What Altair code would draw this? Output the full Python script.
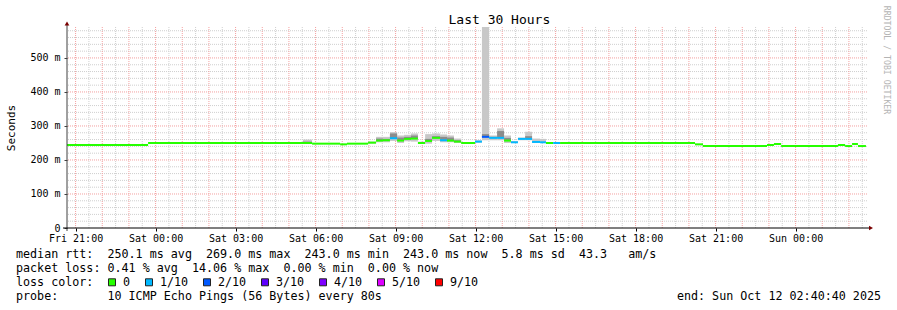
import json
import altair as alt
import pandas as pd

FONT = "DejaVu Sans Mono"
NB = "\u00a0"

# ---------------- text ----------------
TITLE = "Last 30 Hours"
Y_TITLE = "Seconds"
WATERMARK = "RRDTOOL / TOBI OETIKER"
LINE_RTT = "median rtt:  250.1 ms avg  269.0 ms max  243.0 ms min  243.0 ms now  5.8 ms sd  43.3   am/s"
LINE_LOSS = "packet loss: 0.41 % avg  14.06 % max  0.00 % min  0.00 % now"
LINE_COLOR = "loss color:"
LINE_PROBE = "probe:       10 ICMP Echo Pings (56 Bytes) every 80s"
LINE_END = "end: Sun Oct 12 02:40:40 2025"

# ---------------- axes ----------------
x_tick_labels = ["Fri 21:00", "Sat 00:00", "Sat 03:00", "Sat 06:00", "Sat 09:00",
                 "Sat 12:00", "Sat 15:00", "Sat 18:00", "Sat 21:00", "Sun 00:00"]
FIRST_TICK_H = 0.3222          # Fri 21:00 is 19m20s after start (Fri 20:40:40)
X_MAX = 30                      # 30 hours shown
Y_MAX = 591                     # ms at top of plot
x_tick_values = [round(FIRST_TICK_H + 3 * i, 4) for i in range(len(x_tick_labels))]
y_tick_values = [0, 100, 200, 300, 400, 500]
hour_grid = [round(FIRST_TICK_H + i, 4) for i in range(30)]
half_hour_grid = [round(FIRST_TICK_H + 0.5 + i, 4) for i in range(30)]
y_major_grid = [100, 200, 300, 400, 500]
y_minor_grid = [v for v in range(20, 581, 20) if v % 100 != 0]

loss_labels = ["0", "1/10", "2/10", "3/10", "4/10", "5/10", "9/10"]
loss_colors = ["#26ff00", "#00b8ff", "#0059ff", "#5e00ff", "#7e00ff", "#dd00ff", "#ff0000"]

# ---------------- data (hours since start, ms) ----------------
seg_start = [0.00, 3.04, 8.85, 9.19, 10.24, 10.50, 11.29, 11.59, 11.85, 12.11,
             12.38, 12.64, 12.90, 13.16, 13.43, 13.69, 13.99, 14.25, 14.51, 14.78,
             15.30, 15.56, 15.83, 16.13, 16.39, 16.65, 16.91, 17.18, 17.44, 17.74,
             17.96, 18.23, 18.49, 23.55, 23.85, 26.25, 26.51, 26.78, 28.91, 29.18,
             29.44, 29.66]
seg_end = seg_start[1:] + [29.96]
median_ms = [244, 250, 250, 248, 246, 248, 251, 257, 258, 264,
             257, 262, 263, 250, 256, 265, 258, 257, 254, 250,
             254, 268, 265, 265, 257, 252, 262, 262, 253, 252,
             250, 250, 250, 246, 241, 244, 247, 241, 244, 241,
             247, 241]
loss = ["0", "0", "0", "0", "0", "0", "0", "0", "0", "1/10",
        "0", "0", "0", "0", "0", "0", "1/10", "0", "0", "0",
        "1/10", "2/10", "1/10", "1/10", "0", "1/10", "1/10", "1/10", "1/10", "1/10",
        "0", "1/10", "0", "0", "0", "0", "0", "0", "0", "0",
        "0", "0"]
smoke_lo = [None, None, 248, None, None, None, 248, 252, 252, 256,
            250, 255, 254, 247, 248, 256, 252, 252, 250, None,
            251, 258, 258, 258, 250, 250, 258, 258, 250, 250,
            None, None, None, None, None, None, None, None, None, None,
            None, None]
smoke_hi = [None, None, 260, None, None, None, 254, 268, 268, 282,
            272, 274, 278, 254, 276, 278, 275, 272, 263, None,
            258, 591, 272, 293, 272, 256, 266, 283, 263, 262,
            None, None, None, None, None, None, None, None, None, None,
            None, None]
smoke_dark = [None, None, 254, None, None, None, None, 263, 262, 278,
              266, 268, 272, None, 262, 270, 268, 266, 258, None,
              None, 276, 268, 285, 265, None, None, 270, None, None,
              None, None, None, None, None, None, None, None, None, None,
              None, None]

df = pd.DataFrame({"t0": seg_start, "t1": seg_end, "med": median_ms, "loss": loss,
                   "lo": smoke_lo, "hi": smoke_hi, "dark": smoke_dark})
df_smoke = df.dropna(subset=["lo"])
df_dark = df.dropna(subset=["dark"])

W, H = 800, 201
xs = alt.Scale(domain=[0, X_MAX], nice=False, zero=False)
ys = alt.Scale(domain=[0, Y_MAX], nice=False, zero=True)

x_label_expr = json.dumps(x_tick_labels) + f"[round((datum.value - {FIRST_TICK_H}) / 3)]"
y_label_expr = f"datum.value == 0 ? '0{NB}{NB}' : datum.value + ' m'"

X_AXIS = alt.Axis(
    values=x_tick_values, labelExpr=x_label_expr, title=None, grid=False,
    domain=False, tickSize=3, tickColor="#000", labelColor="#000",
    labelFont=FONT, labelFontSize=10, labelPadding=2, labelFlush=False,
    labelOverlap=False)
Y_AXIS = alt.Axis(
    values=y_tick_values, labelExpr=y_label_expr, title=Y_TITLE, grid=False,
    domain=False, tickSize=3, tickColor="#404040", labelColor="#000",
    labelFont=FONT, labelFontSize=10, labelPadding=4, titleFont=FONT,
    titleFontSize=11, titleFontWeight="normal", titleColor="#000",
    titleAngle=270, titleX=-56, titleY=H / 2, titleAlign="center",
    titleBaseline="middle")

GRID_MINOR = "#cfcfcf"
GRID_MAJOR = "#f3a0a0"

v_minor = alt.Chart(pd.DataFrame({"h": half_hour_grid})).mark_rule(
    color=GRID_MINOR, strokeDash=[1, 1], strokeWidth=1).encode(
    x=alt.X("h:Q", scale=xs, axis=X_AXIS))
h_minor = alt.Chart(pd.DataFrame({"v": y_minor_grid})).mark_rule(
    color=GRID_MINOR, strokeDash=[1, 1], strokeWidth=1).encode(
    y=alt.Y("v:Q", scale=ys, axis=Y_AXIS))
v_major = alt.Chart(pd.DataFrame({"h": hour_grid})).mark_rule(
    color=GRID_MAJOR, strokeDash=[1, 1], strokeWidth=1).encode(
    x=alt.X("h:Q", scale=xs, axis=X_AXIS))
h_major = alt.Chart(pd.DataFrame({"v": y_major_grid})).mark_rule(
    color=GRID_MAJOR, strokeDash=[1, 1], strokeWidth=1).encode(
    y=alt.Y("v:Q", scale=ys, axis=Y_AXIS))

smoke = alt.Chart(df_smoke).mark_rect(color="#c8c8c8").encode(
    x=alt.X("t0:Q", scale=xs, axis=X_AXIS), x2="t1:Q",
    y=alt.Y("lo:Q", scale=ys, axis=Y_AXIS), y2="hi:Q")
dark = alt.Chart(df_dark).mark_rect(color="#8c8c8c").encode(
    x=alt.X("t0:Q", scale=xs, axis=X_AXIS), x2="t1:Q",
    y=alt.Y("med:Q", scale=ys, axis=Y_AXIS), y2="dark:Q")

median = alt.Chart(df).mark_rule(strokeWidth=2).encode(
    x=alt.X("t0:Q", scale=xs, axis=X_AXIS),
    x2="t1:Q",
    y=alt.Y("med:Q", scale=ys, axis=Y_AXIS),
    color=alt.Color("loss:N", scale=alt.Scale(domain=loss_labels, range=loss_colors),
                    legend=None))

one = pd.DataFrame({"a": [0]})
y_line = alt.Chart(one).mark_rule(color="#404040", strokeWidth=1).encode(
    x=alt.value(0), y=alt.value(-4), y2=alt.value(H + 3))
x_line = alt.Chart(one).mark_rule(color="#000000", strokeWidth=1).encode(
    x=alt.value(-4), x2=alt.value(W + 3), y=alt.value(H))
arrow_up = alt.Chart(one).mark_point(shape="triangle-up", filled=True, color="#7a0000",
                                     size=22, opacity=1).encode(x=alt.value(0), y=alt.value(-3.5))
arrow_right = alt.Chart(one).mark_point(shape="triangle-right", filled=True, color="#7a0000",
                                        size=22, opacity=1).encode(x=alt.value(W + 4), y=alt.value(H))


def txt(s, x, y, size=11.7, align="left", color="#000", angle=0):
    return alt.Chart(pd.DataFrame({"s": [s.replace(" ", NB)]})).mark_text(
        font=FONT, fontSize=size, align=align, baseline="middle", color=color,
        angle=angle).encode(x=alt.value(x), y=alt.value(y), text="s:N")


L = 67  # left padding
T = 27  # top padding
layers = [v_minor, h_minor, v_major, h_major, smoke, dark, median,
          y_line, x_line, arrow_up, arrow_right,
          txt(TITLE, 448.5 - L, 19.5 - T, size=13),
          txt(WATERMARK, 886 - L, 60 - T, size=8.2, align="center", color="#b4b4b4", angle=90),
          txt(LINE_RTT, 16 - L, 254.3 - T),
          txt(LINE_LOSS, 16 - L, 268.3 - T),
          txt(LINE_COLOR, 16 - L, 282.3 - T),
          txt(LINE_PROBE, 16 - L, 296.3 - T),
          txt(LINE_END, 881 - L, 296.3 - T, align="right")]

# loss colour swatches
CHAR = 7.0
cursor = 108.0
for lab, col in zip(loss_labels, loss_colors):
    layers.append(alt.Chart(one).mark_square(size=49, filled=True, color=col, stroke="#222",
                                             strokeWidth=1, opacity=1).encode(
        x=alt.value(cursor + 4 - L), y=alt.value(282.3 - T)))
    lx = cursor + 15
    layers.append(txt(lab, lx - L, 282.3 - T))
    cursor = lx + (len(lab) + 2) * CHAR + 1

chart = alt.layer(*layers).properties(
    width=W, height=H,
    padding={"left": L, "top": T, "right": 897 - L - W, "bottom": 310 - T - H},
    autosize=alt.AutoSizeParams(type="none"),
    background="white",
).configure_view(strokeWidth=0)

chart.save("out.html", embed_options={"renderer": "svg", "actions": False})
